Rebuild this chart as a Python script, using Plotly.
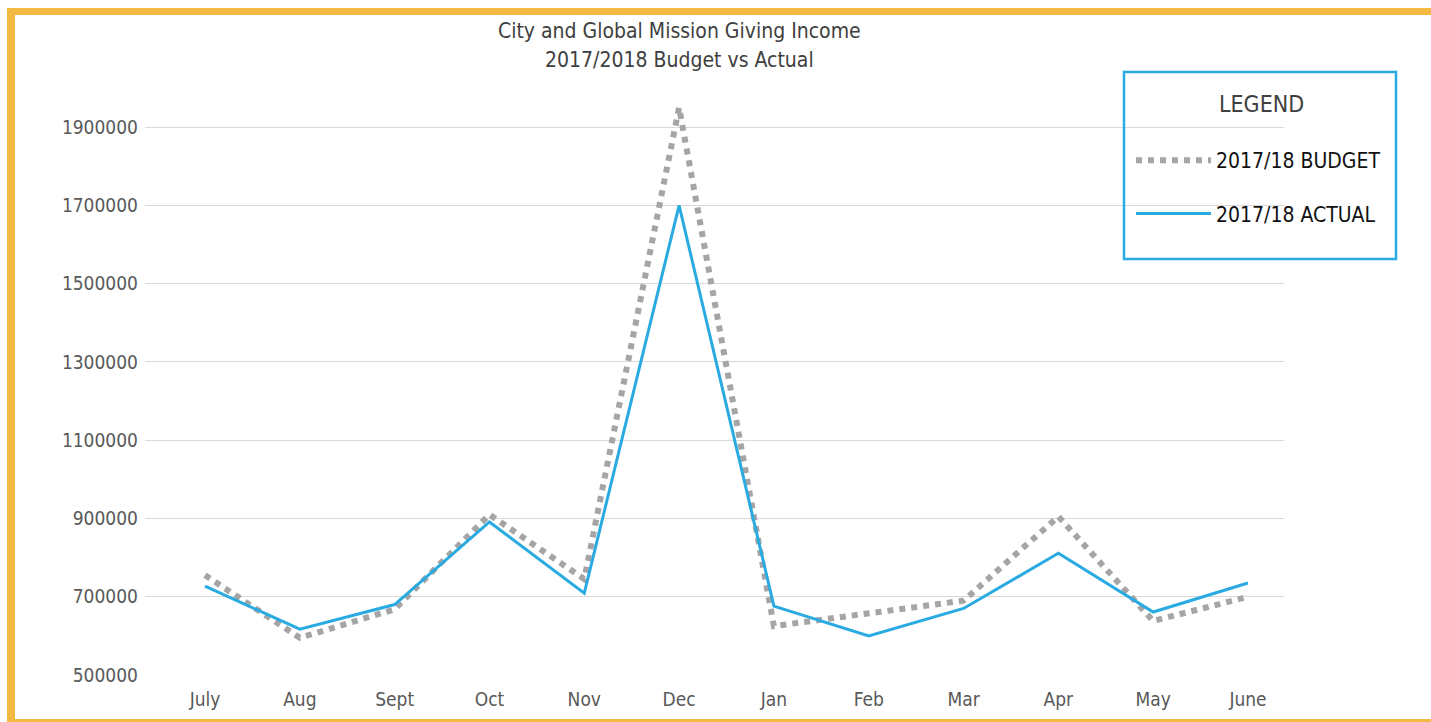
import plotly.graph_objects as go

# ---- data ----
months = ["July", "Aug", "Sept", "Oct", "Nov", "Dec", "Jan", "Feb", "Mar", "Apr", "May", "June"]
budget = [755000, 595000, 668000, 910000, 745000, 1950000, 625000, 658000, 690000, 905000, 638000, 700000]
actual = [727000, 617000, 680000, 891000, 709000, 1700000, 676000, 600000, 670000, 811000, 661000, 735000]
ytick_vals = [500000, 700000, 900000, 1100000, 1300000, 1500000, 1700000, 1900000]
title_lines = ["City and Global Mission Giving Income", "2017/2018 Budget vs Actual"]
legend_title = "LEGEND"
budget_name = "2017/18 BUDGET"
actual_name = "2017/18 ACTUAL"

# ---- layout geometry (pixels) ----
W, H = 1431, 722
L, R, T, B = 145, 1284, 88, 675

def px(x):
    return (x - L) / (R - L)

def py(y):
    return (B - y) / (B - T)

FONT = "DejaVu Sans Condensed, Roboto, sans-serif"
ORANGE = "#F4B942"
BLUE = "#29ABE2"
GRAY = "#A5A5A5"

fig = go.Figure()
fig.add_trace(go.Scatter(
    x=list(range(len(months))), y=budget, name=budget_name, mode="lines",
    line=dict(color=GRAY, width=6, dash="6px,6px"),
    legendgroup="b", cliponaxis=False,
))
fig.add_trace(go.Scatter(
    x=list(range(len(months))), y=actual, name=actual_name, mode="lines",
    line=dict(color=BLUE, width=3),
    legendgroup="a", cliponaxis=False,
))

shapes = [
    # orange frame
    dict(type="rect", xref="paper", yref="paper", x0=px(7), x1=px(15), y0=py(722), y1=py(8),
         fillcolor=ORANGE, line=dict(width=0), layer="above"),
    dict(type="rect", xref="paper", yref="paper", x0=px(7), x1=px(1431), y0=py(15), y1=py(8),
         fillcolor=ORANGE, line=dict(width=0), layer="above"),
    dict(type="rect", xref="paper", yref="paper", x0=px(7), x1=px(1431), y0=py(722), y1=py(719),
         fillcolor=ORANGE, line=dict(width=0), layer="above"),
    # legend box
    dict(type="rect", xref="paper", yref="paper", x0=px(1124), x1=px(1396), y0=py(259), y1=py(72),
         fillcolor="rgba(0,0,0,0)", line=dict(color=BLUE, width=2.5), layer="above"),
]

annotations = [
    dict(text=title_lines[0], xref="paper", yref="paper", x=px(679), y=py(31),
         xanchor="center", yanchor="middle", showarrow=False,
         font=dict(family=FONT, size=21, color="#404040")),
    dict(text=title_lines[1], xref="paper", yref="paper", x=px(679), y=py(60),
         xanchor="center", yanchor="middle", showarrow=False,
         font=dict(family=FONT, size=21, color="#404040")),
    dict(text=legend_title, xref="paper", yref="paper", x=px(1261), y=py(104),
         xanchor="center", yanchor="middle", showarrow=False,
         font=dict(family=FONT, size=23, color="#404040")),
]

fig.update_layout(
    width=W, height=H,
    margin=dict(l=L, r=W - R, t=T, b=H - B, pad=0),
    paper_bgcolor="white", plot_bgcolor="white",
    shapes=shapes, annotations=annotations,
    font=dict(family=FONT, color="#595959"),
    showlegend=True,
    legend=dict(
        x=px(1131), y=py(140), xanchor="left", yanchor="top",
        bgcolor="rgba(0,0,0,0)", borderwidth=0,
        font=dict(family=FONT, size=21, color="#111111"),
        itemwidth=75, tracegroupgap=23, traceorder="grouped",
    ),
    xaxis=dict(
        range=[-(205 - L) / 94.8, 11 + (R - 1248) / 94.8],
        tickvals=list(range(len(months))), ticktext=months,
        showgrid=False, zeroline=False, showline=False, ticks="",
        ticklabelstandoff=11,
        tickfont=dict(family=FONT, size=19, color="#595959"),
    ),
    yaxis=dict(
        range=[500000, 2000000],
        tickvals=ytick_vals, ticktext=[str(v) for v in ytick_vals],
        showgrid=True, gridcolor="#D9D9D9", gridwidth=1.3,
        zeroline=False, showline=False, ticks="",
        ticklabelstandoff=6,
        tickfont=dict(family=FONT, size=19, color="#595959"),
    ),
)

fig.write_html("out.html", config={"displayModeBar": False},
               post_script="document.body.style.margin='0';")
